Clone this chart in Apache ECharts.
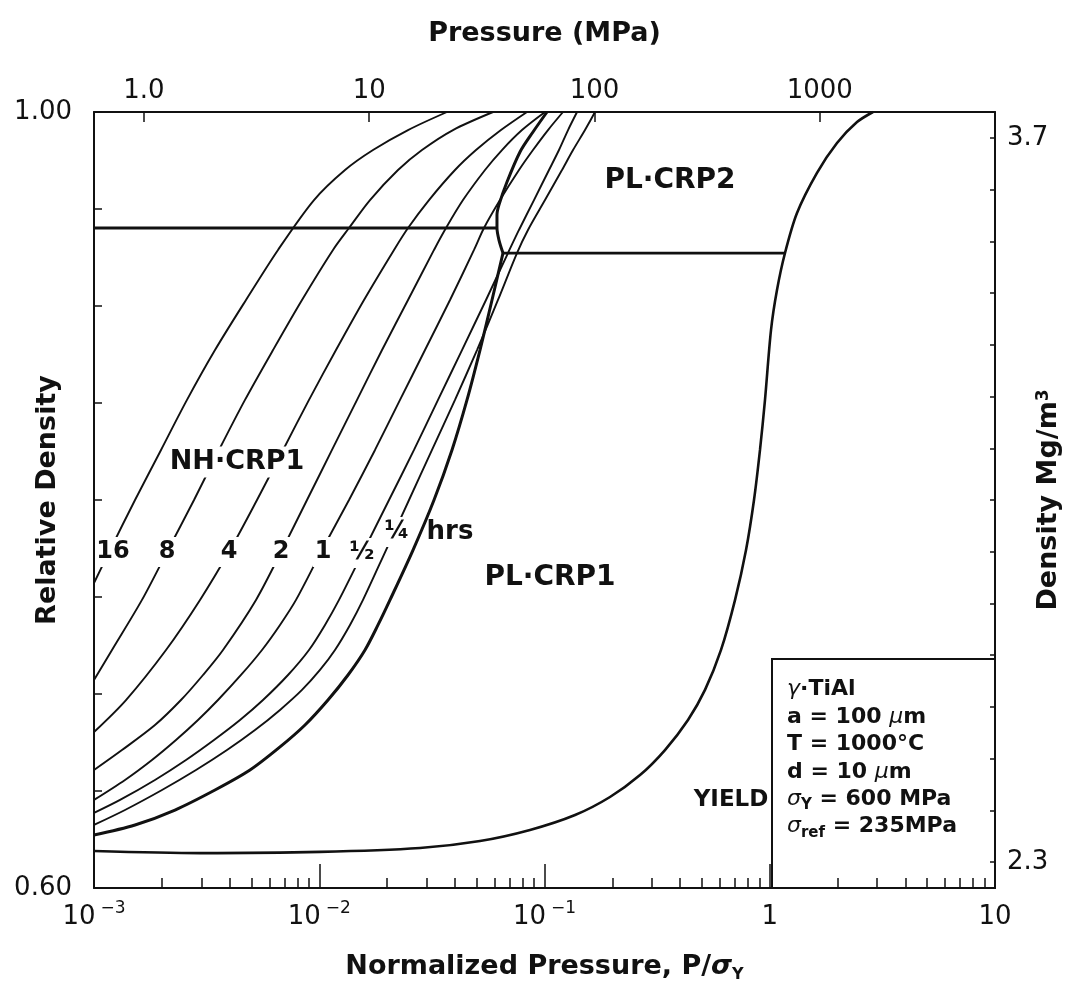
<!DOCTYPE html>
<html><head><meta charset="utf-8">
<script src="https://cdn.jsdelivr.net/npm/echarts@6/dist/echarts.min.js"></script>
<style>html,body{margin:0;padding:0;background:#fff}#c{width:1065px;height:985px}</style>
</head><body><div id="c"></div>
<script>
// ---- material / axis parameters ----
const sigmaY = 600;          // MPa, yield stress (top axis = P/sigmaY * sigmaY)
const fullDensity = 3.75;    // Mg/m3 (right axis = relative density * fullDensity)
const xRange = [0.001, 10];
const yRange = [0.60, 1.00];
const xMajorTicks = [0.001, 0.01, 0.1, 1, 10];
const pressureTicks = [1, 10, 100, 1000];
const densityLabelValues = [2.3, 3.7];
const relDensityLabelValues = [0.60, 1.00];

// ---- time contours (hrs): [P/sigmaY, relative density] ----
const contour16 = [[0.001,0.7572],[0.001178,0.7742],[0.001521,0.8000],[0.001984,0.8258],[0.002587,0.8516],[0.003445,0.8773],[0.004729,0.9031],[0.006560,0.9289],[0.009477,0.9546],[0.013013,0.9701],[0.017325,0.9804],[0.024778,0.9907],[0.036912,1.0]];
const contour8 = [[0.001,0.7072],[0.001202,0.7227],[0.001633,0.7485],[0.002131,0.7742],[0.002780,0.8000],[0.003589,0.8258],[0.004681,0.8516],[0.006234,0.8773],[0.008383,0.9031],[0.011508,0.9289],[0.013556,0.9402],[0.016801,0.9546],[0.022370,0.9701],[0.028585,0.9804],[0.039247,0.9907],[0.059078,1.0]];
const contour4 = [[0.001,0.6804],[0.001387,0.6969],[0.002088,0.7227],[0.002956,0.7485],[0.004016,0.7742],[0.005292,0.8000],[0.006905,0.8258],[0.009005,0.8516],[0.011866,0.8773],[0.015801,0.9031],[0.021473,0.9289],[0.024778,0.9402],[0.030704,0.9546],[0.040057,0.9701],[0.049648,0.9804],[0.064089,0.9907],[0.083608,1.0]];
const contour2 = [[0.001,0.6608],[0.001331,0.6711],[0.001865,0.6840],[0.002433,0.6969],[0.003048,0.7098],[0.003739,0.7227],[0.005239,0.7485],[0.006835,0.7742],[0.008823,0.8000],[0.011391,0.8258],[0.014714,0.8516],[0.018997,0.8773],[0.024778,0.9031],[0.032321,0.9289],[0.036536,0.9402],[0.043470,0.9546],[0.054429,0.9701],[0.064748,0.9804],[0.079441,0.9907],[0.10051,1.0]];
const contour1 = [[0.001,0.6454],[0.001373,0.6557],[0.001809,0.6660],[0.002312,0.6763],[0.002896,0.6866],[0.003552,0.6969],[0.004494,0.7098],[0.005570,0.7227],[0.006696,0.7356],[0.007886,0.7485],[0.010285,0.7742],[0.013556,0.8000],[0.017684,0.8258],[0.022833,0.8516],[0.029476,0.8773],[0.038062,0.9031],[0.048644,0.9289],[0.053876,0.9402],[0.063437,0.9546],[0.077043,0.9701],[0.088894,0.9804],[0.10365,0.9907],[0.12080,1.0]];
const contourHalf = [[0.001,0.6387],[0.001305,0.6454],[0.001865,0.6557],[0.002561,0.6660],[0.003410,0.6763],[0.004448,0.6866],[0.005627,0.6969],[0.007266,0.7098],[0.009005,0.7227],[0.010605,0.7356],[0.012240,0.7485],[0.015801,0.7742],[0.020406,0.8000],[0.026345,0.8258],[0.033671,0.8516],[0.043028,0.8773],[0.054989,0.9031],[0.068842,0.9273],[0.077043,0.9392],[0.089808,0.9546],[0.10471,0.9701],[0.11596,0.9804],[0.12721,0.9907],[0.13947,1.0]];
const contourQuarter = [[0.001,0.6325],[0.001373,0.6402],[0.002004,0.6505],[0.002837,0.6608],[0.003895,0.6711],[0.005185,0.6814],[0.006696,0.6918],[0.008383,0.7021],[0.010077,0.7124],[0.011746,0.7227],[0.013695,0.7356],[0.015641,0.7485],[0.019790,0.7742],[0.025032,0.8000],[0.031667,0.8258],[0.040057,0.8516],[0.050158,0.8773],[0.062153,0.9031],[0.075484,0.9273],[0.084467,0.9392],[0.10051,0.9546],[0.11957,0.9701],[0.13388,0.9804],[0.15126,0.9907],[0.16756,1.0]];

// ---- field boundaries ----
const boundaryNHPL1 = [[0.001,0.6273],[0.001521,0.6325],[0.002289,0.6402],[0.003445,0.6505],[0.004927,0.6608],[0.006696,0.6727],[0.008644,0.6840],[0.010935,0.6969],[0.013418,0.7098],[0.015964,0.7227],[0.018236,0.7356],[0.020616,0.7485],[0.026077,0.7742],[0.032321,0.8000],[0.038848,0.8258],[0.045284,0.8516],[0.051717,0.8773],[0.058477,0.9031],[0.065413,0.9273]];
const boundaryNHPL2 = [[0.065413,0.9273],[0.062792,0.9340],[0.061521,0.9402],[0.061521,0.9469],[0.062792,0.9521],[0.068142,0.9639],[0.077834,0.9794],[0.088894,0.9897],[0.10259,1.0]];
const stageLineNH = [[0.001,0.9402],[0.061521,0.9402]];
const stageLinePL = [[0.065413,0.9273],[1.1687,0.9273]];
const yieldCurve = [[0.001,0.6191],[0.002956,0.6180],[0.010077,0.6186],[0.028006,0.6206],[0.051717,0.6242],[0.086211,0.6299],[0.13664,0.6376],[0.19533,0.6469],[0.26546,0.6582],[0.34264,0.6711],[0.43355,0.6866],[0.51586,0.7021],[0.60762,0.7227],[0.70141,0.7485],[0.78460,0.7742],[0.85128,0.8000],[0.90510,0.8258],[0.95257,0.8516],[1.0129,0.8876],[1.0768,0.9082],[1.1687,0.9273],[1.3213,0.9479],[1.6209,0.9686],[1.9887,0.9840],[2.4399,0.9948],[2.8728,1.0]];

// ---- tick values ----
const xMinorTicks = [];
for (let e = -3; e < 1; e++) for (let m = 2; m <= 9; m++) xMinorTicks.push(m * Math.pow(10, e));
const densityTicks = [];
for (let d = 23; d <= 37; d++) densityTicks.push(d / 10);

const FF = "'DejaVu Sans', 'Liberation Sans', Arial, sans-serif";
const ink = '#111';

function rt(size, weight, extra) {
  return Object.assign({ fontFamily: FF, fontSize: size, fontWeight: weight || 'normal', color: ink, fill: ink }, extra || {});
}

function curve(name, data, width, smooth) {
  return { name, type: 'line', data, xAxisIndex: 0, yAxisIndex: 0, showSymbol: false, symbol: 'none',
    smooth: smooth === undefined ? 0.3 : smooth, silent: true, animation: false, z: 3,
    lineStyle: { color: ink, width } };
}

function label(x, y, text, size, opts) {
  opts = opts || {};
  return { type: 'text', x, y, z: 60, silent: true,
    style: Object.assign({ text, fontFamily: FF, fontSize: size, fontWeight: 'bold', fill: ink,
      align: 'center', verticalAlign: 'middle', textAlign: 'center', textVerticalAlign: 'middle' }, opts) };
}

const chart = echarts.init(document.getElementById('c'), null, { renderer: 'canvas' });

const option = {
  backgroundColor: '#fff',
  animation: false,
  grid: { left: 94, right: 70, top: 112, bottom: 97, containLabel: false, outerBoundsMode: 'none' },
  xAxis: [
    { type: 'log', logBase: 10, position: 'bottom', min: xRange[0], max: xRange[1],
      axisLine: { show: true, lineStyle: { color: ink, width: 2 } },
      axisTick: { show: true, inside: true, length: 24, customValues: xMajorTicks, lineStyle: { color: ink, width: 1.5 } },
      axisLabel: { show: true, customValues: xMajorTicks, margin: 12, color: ink,
        formatter: v => { const e = Math.round(Math.log10(v)); return e < 0 ? '{n|10}{sup|−' + (-e) + '}' : '{n|' + (e === 0 ? '1' : '10') + '}'; },
        rich: { n: rt(26, 'normal', { lineHeight: 34 }), sup: rt(17, 'normal', { verticalAlign: 'top', lineHeight: 20, padding: [0, 0, 0, 5] }) } },
      splitLine: { show: false }, minorTick: { show: false },
      name: 'Normalized Pressure, P/{i|σ}{s|Y}', nameLocation: 'middle', nameGap: 63, nameMoveOverlap: false,
      nameTextStyle: { fontFamily: FF, fontSize: 27, fontWeight: 'bold', color: ink,
        rich: { i: rt(27, 'bold', { fontStyle: 'italic', lineHeight: 32 }), s: rt(16, 'bold', { verticalAlign: 'bottom', lineHeight: 22 }) } } },
    { type: 'log', logBase: 10, position: 'top', min: xRange[0] * sigmaY, max: xRange[1] * sigmaY,
      axisLine: { show: true, lineStyle: { color: ink, width: 2 } },
      axisTick: { show: true, inside: true, length: 10, customValues: pressureTicks, lineStyle: { color: ink, width: 1.5 } },
      axisLabel: { show: true, customValues: pressureTicks, margin: 8, fontFamily: FF, fontSize: 26, color: ink,
        formatter: v => (Math.abs(v - 1) < 1e-9 ? '1.0' : String(Math.round(v))) },
      splitLine: { show: false },
      name: 'Pressure (MPa)', nameLocation: 'middle', nameGap: 65, nameMoveOverlap: false,
      nameTextStyle: { fontFamily: FF, fontSize: 27, fontWeight: 'bold', color: ink } },
    { type: 'log', logBase: 10, position: 'bottom', min: xRange[0], max: xRange[1],
      axisLine: { show: false },
      axisTick: { show: true, inside: true, length: 10, customValues: xMinorTicks, lineStyle: { color: ink, width: 1.5 } },
      axisLabel: { show: false }, splitLine: { show: false } }
  ],
  yAxis: [
    { type: 'value', position: 'left', min: yRange[0], max: yRange[1], interval: 0.05,
      axisLine: { show: true, lineStyle: { color: ink, width: 2 } },
      axisTick: { show: true, inside: true, length: 8, lineStyle: { color: ink, width: 1.5 } },
      axisLabel: { show: true, customValues: relDensityLabelValues, margin: 22, fontFamily: FF, fontSize: 26, color: ink,
        formatter: v => v.toFixed(2) },
      splitLine: { show: false },
      name: 'Relative Density', nameLocation: 'middle', nameGap: 33, nameMoveOverlap: false,
      nameTextStyle: { fontFamily: FF, fontSize: 27, fontWeight: 'bold', color: ink } },
    { type: 'value', position: 'right', min: yRange[0] * fullDensity, max: yRange[1] * fullDensity,
      axisLine: { show: true, lineStyle: { color: ink, width: 2 } },
      axisTick: { show: true, inside: true, length: 5, customValues: densityTicks, lineStyle: { color: ink, width: 1.5 } },
      axisLabel: { show: true, customValues: densityLabelValues, margin: 12, fontFamily: FF, fontSize: 26, color: ink,
        formatter: v => v.toFixed(1) },
      splitLine: { show: false },
      name: 'Density Mg/m{sup|3}', nameLocation: 'middle', nameGap: 40, nameMoveOverlap: false,
      nameTextStyle: { fontFamily: FF, fontSize: 27, fontWeight: 'bold', color: ink,
        rich: { sup: rt(17, 'bold', { verticalAlign: 'top', lineHeight: 14 }) } } }
  ],
  series: [
    curve('16 hrs', contour16, 1.9),
    curve('8 hrs', contour8, 1.9),
    curve('4 hrs', contour4, 1.9),
    curve('2 hrs', contour2, 1.9),
    curve('1 hr', contour1, 1.9),
    curve('1/2 hr', contourHalf, 1.9),
    curve('1/4 hr', contourQuarter, 1.9),
    curve('NH/PL stage 1 boundary', boundaryNHPL1, 3),
    curve('NH/PL stage 2 boundary', boundaryNHPL2, 3),
    curve('NH stage boundary', stageLineNH, 2.8, false),
    curve('PL stage boundary', stageLinePL, 2.8, false),
    curve('Yield', yieldCurve, 2.6)
  ],
  graphic: [
    { type: 'rect', z: 55, silent: true, shape: { x: 772, y: 659, width: 223, height: 229 },
      style: { fill: 'transparent', stroke: ink, lineWidth: 2 } },
    { type: 'text', z: 60, silent: true, x: 787, y: 676,
      style: { text: '{i|γ}·TiAl\na = 100 {i|μ}m\nT = 1000°C\nd = 10 {i|μ}m\n{i|σ}{s|Y} = 600 MPa\n{i|σ}{s|ref} = 235MPa',
        fontFamily: FF, fontSize: 22, fontWeight: 'bold', fill: ink, lineHeight: 27.4,
        align: 'left', verticalAlign: 'top',
        rich: { i: { fontFamily: FF, fontSize: 22, fontWeight: 'normal', fontStyle: 'italic', fill: ink, lineHeight: 27.4 },
                s: { fontFamily: FF, fontSize: 15, fontWeight: 'bold', fill: ink, verticalAlign: 'bottom', lineHeight: 22 } } } },
    label(237, 462, 'NH·CRP1', 27, { backgroundColor: '#fff', padding: [2, 2] }),
    label(670, 181, 'PL·CRP2', 28),
    label(550, 578, 'PL·CRP1', 28),
    label(731, 800, 'YIELD', 23),
    label(113, 552, '16', 24, { backgroundColor: '#fff', padding: [3, 0] }),
    label(167, 552, '8', 24, { backgroundColor: '#fff', padding: [3, 2] }),
    label(229, 552, '4', 24, { backgroundColor: '#fff', padding: [3, 2] }),
    label(281, 552, '2', 24, { backgroundColor: '#fff', padding: [3, 2] }),
    label(323, 552, '1', 24, { backgroundColor: '#fff', padding: [3, 2] }),
    label(362, 553, '½', 24, { backgroundColor: '#fff', padding: [3, 1] }),
    label(397, 532, '¼', 24, { backgroundColor: '#fff', padding: [3, 1] }),
    label(450, 532, 'hrs', 26)
  ]
};
chart.setOption(option);
</script>
</body></html>
